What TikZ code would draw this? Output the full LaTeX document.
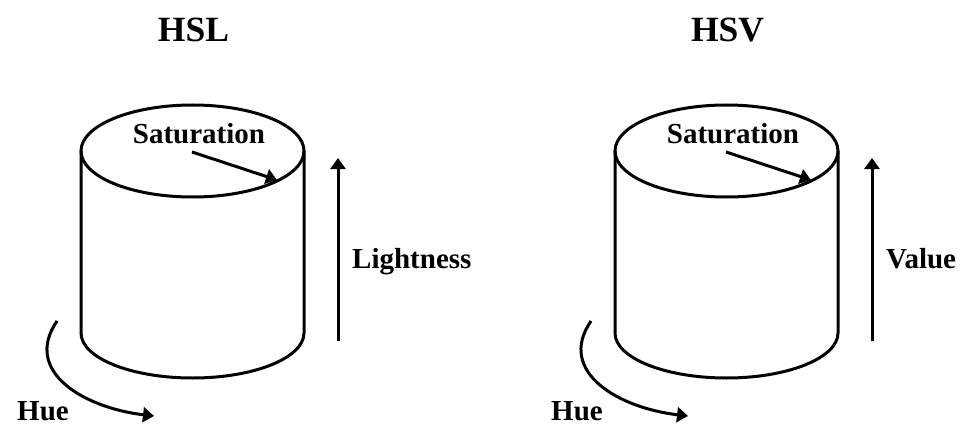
\documentclass[tikz,border=0pt]{standalone}
\usepackage{fontspec}
\setmainfont{Liberation Serif}
\usetikzlibrary{arrows.meta}
\tikzset{
  shape line/.style={line width=3pt},
  arr/.style={line width=3pt,-{Triangle[length=11pt,width=15pt]}},
  lbl/.style={font=\fontsize{29}{33}\selectfont\bfseries,inner sep=0pt},
  ttl/.style={font=\fontsize{35.5}{40}\selectfont\bfseries,inner sep=0pt}
}
\begin{document}
\begin{tikzpicture}[x=1pt,y=-1pt]
\useasboundingbox (0,0) rectangle (966,425);
% ---------- HSL ----------
\node[ttl,anchor=base] (tl) at (193.5,42) {HSL};
\draw[shape line] (192.5,151) ellipse [x radius=111.5pt, y radius=46pt];
\draw[shape line] (81,151) -- (81,333) arc [start angle=180, end angle=360, x radius=111.5pt, y radius=45pt] -- (304,151);
\node[lbl,anchor=base] (sl) at (199,143) {Saturation};
\coordinate (sla) at (192,152);
\coordinate (slb) at (277,180);
\draw[arr] (sla) -- (slb);
\coordinate (lla) at (338,341);
\coordinate (llb) at (338,158);
\draw[arr] (lla) -- (llb);
\node[lbl,anchor=base west] (ll) at (352,268) {Lightness};
\node[lbl,anchor=base west] (hl) at (17,420) {Hue};
\coordinate (hla) at (57,321);
\coordinate (hlb) at (154,416);
\draw[arr] (hla) .. controls (22,372) and (85,408) .. (hlb);
% ---------- HSV ----------
\node[ttl,anchor=base] (tr) at (727.5,42) {HSV};
\draw[shape line] (726.5,151) ellipse [x radius=111.5pt, y radius=46pt];
\draw[shape line] (615,151) -- (615,333) arc [start angle=180, end angle=360, x radius=111.5pt, y radius=45pt] -- (838,151);
\node[lbl,anchor=base] (sr) at (733,143) {Saturation};
\coordinate (sra) at (726,152);
\coordinate (srb) at (811,180);
\draw[arr] (sra) -- (srb);
\coordinate (vra) at (872,341);
\coordinate (vrb) at (872,158);
\draw[arr] (vra) -- (vrb);
\node[lbl,anchor=base west] (vr) at (886,268) {Value};
\node[lbl,anchor=base west] (hr) at (551,420) {Hue};
\coordinate (hra) at (591,321);
\coordinate (hrb) at (688,416);
\draw[arr] (hra) .. controls (556,372) and (619,408) .. (hrb);
\end{tikzpicture}
\end{document}
